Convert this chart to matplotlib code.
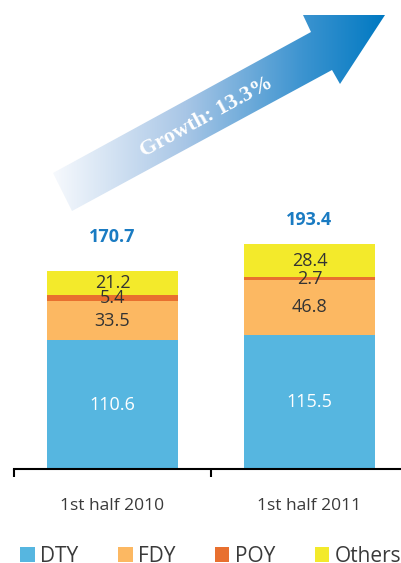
import matplotlib.pyplot as plt
import numpy as np
from matplotlib.patches import Polygon
from matplotlib.colors import LinearSegmentedColormap
from matplotlib.patches import Patch

plt.rcParams['font.family'] = ['Open Sans', 'DejaVu Sans']

periods = ['1st half 2010', '1st half 2011']
series = ['DTY', 'FDY', 'POY', 'Others¹']
dty = [110.6, 115.5]
fdy = [33.5, 46.8]
poy = [5.4, 2.7]
others = [21.2, 28.4]
totals = [170.7, 193.4]
growth = 'Growth: 13.3%'

colors = ['#56b6e0', '#fcb862', '#e8702f', '#f3ea2b']
label_colors = ['white', '#333333', '#333333', '#333333']

fig = plt.figure(figsize=(4.01, 5.63), dpi=100)
W, H = 401, 563

# bar axes (runs past the right edge, the source picture is cropped)
ax = fig.add_axes([14 / W, (H - 469) / H, 394 / W, 400 / H])
ax.set_xlim(-0.5, 1.5)
ax.set_ylim(0, 344)

x = np.arange(len(periods))
bottom = np.zeros(len(periods))
for vals, c, tc in zip([dty, fdy, poy, others], colors, label_colors):
    ax.bar(x, vals, bottom=bottom, width=0.67, color=c, linewidth=0)
    for xi, b, v in zip(x, bottom, vals):
        ax.text(xi, b + v / 2, f'{v:.1f}', ha='center', va='center',
                fontsize=13, color=tc)
    bottom += np.array(vals)

# totals above bars
gaps = [21, 13]
for xi, t, g in zip(x, totals, gaps):
    ax.text(xi, t + g, f'{t:.1f}', ha='center', va='bottom', fontsize=13,
            fontweight='bold', color='#1a7bc2')

for s in ['top', 'right', 'left']:
    ax.spines[s].set_visible(False)
ax.spines['bottom'].set_linewidth(1.5)
ax.set_yticks([])
ax.set_xticks([-0.5, 0.5, 1.5])
ax.set_xticklabels([])
ax.tick_params(axis='x', which='major', direction='out', length=6, width=1.5)
ax.set_xticks(x, minor=True)
ax.set_xticklabels(periods, minor=True)
ax.tick_params(axis='x', which='minor', length=0, pad=21, labelsize=12.5,
               labelcolor='#3a3a3a')

# legend
handles = [Patch(facecolor=c, edgecolor='none') for c in colors]
fig.legend(handles, series, loc='center left', bbox_to_anchor=(12 / W, (H - 556) / H),
           ncol=4, frameon=False, fontsize=15, handlelength=0.7, handleheight=0.7,
           handletextpad=0.25, columnspacing=1.9, borderaxespad=0,
           labelcolor='#3a3a3a')

# growth arrow
ov = fig.add_axes([0, 0, 1, 1])
ov.set_xlim(0, W)
ov.set_ylim(H, 0)
ov.axis('off')
arrow_pts = [(53, 173), (311, 32), (303, 15), (385, 15), (340, 84), (332, 70), (72, 211)]
poly = Polygon(arrow_pts, closed=True, facecolor='none', edgecolor='none')
ov.add_patch(poly)
cmap = LinearSegmentedColormap.from_list(
    'arr', [(0, '#f6f9fd'), (0.4, '#a8c6e6'), (0.75, '#3d94d0'), (1, '#0079c2')])
grad = np.linspace(0, 1, 256).reshape(1, -1)
im = ov.imshow(grad, extent=(53, 385, 211, 15), cmap=cmap, aspect='auto')
im.set_clip_path(poly)
ov.set_xlim(0, W)
ov.set_ylim(H, 0)
ov.text(207, 117, growth, rotation=28.6, ha='center', va='center', fontsize=16,
        fontweight='bold', color='white', family=['Liberation Serif', 'DejaVu Serif'],
        rotation_mode='anchor')

fig.savefig('out.png', dpi=100)
